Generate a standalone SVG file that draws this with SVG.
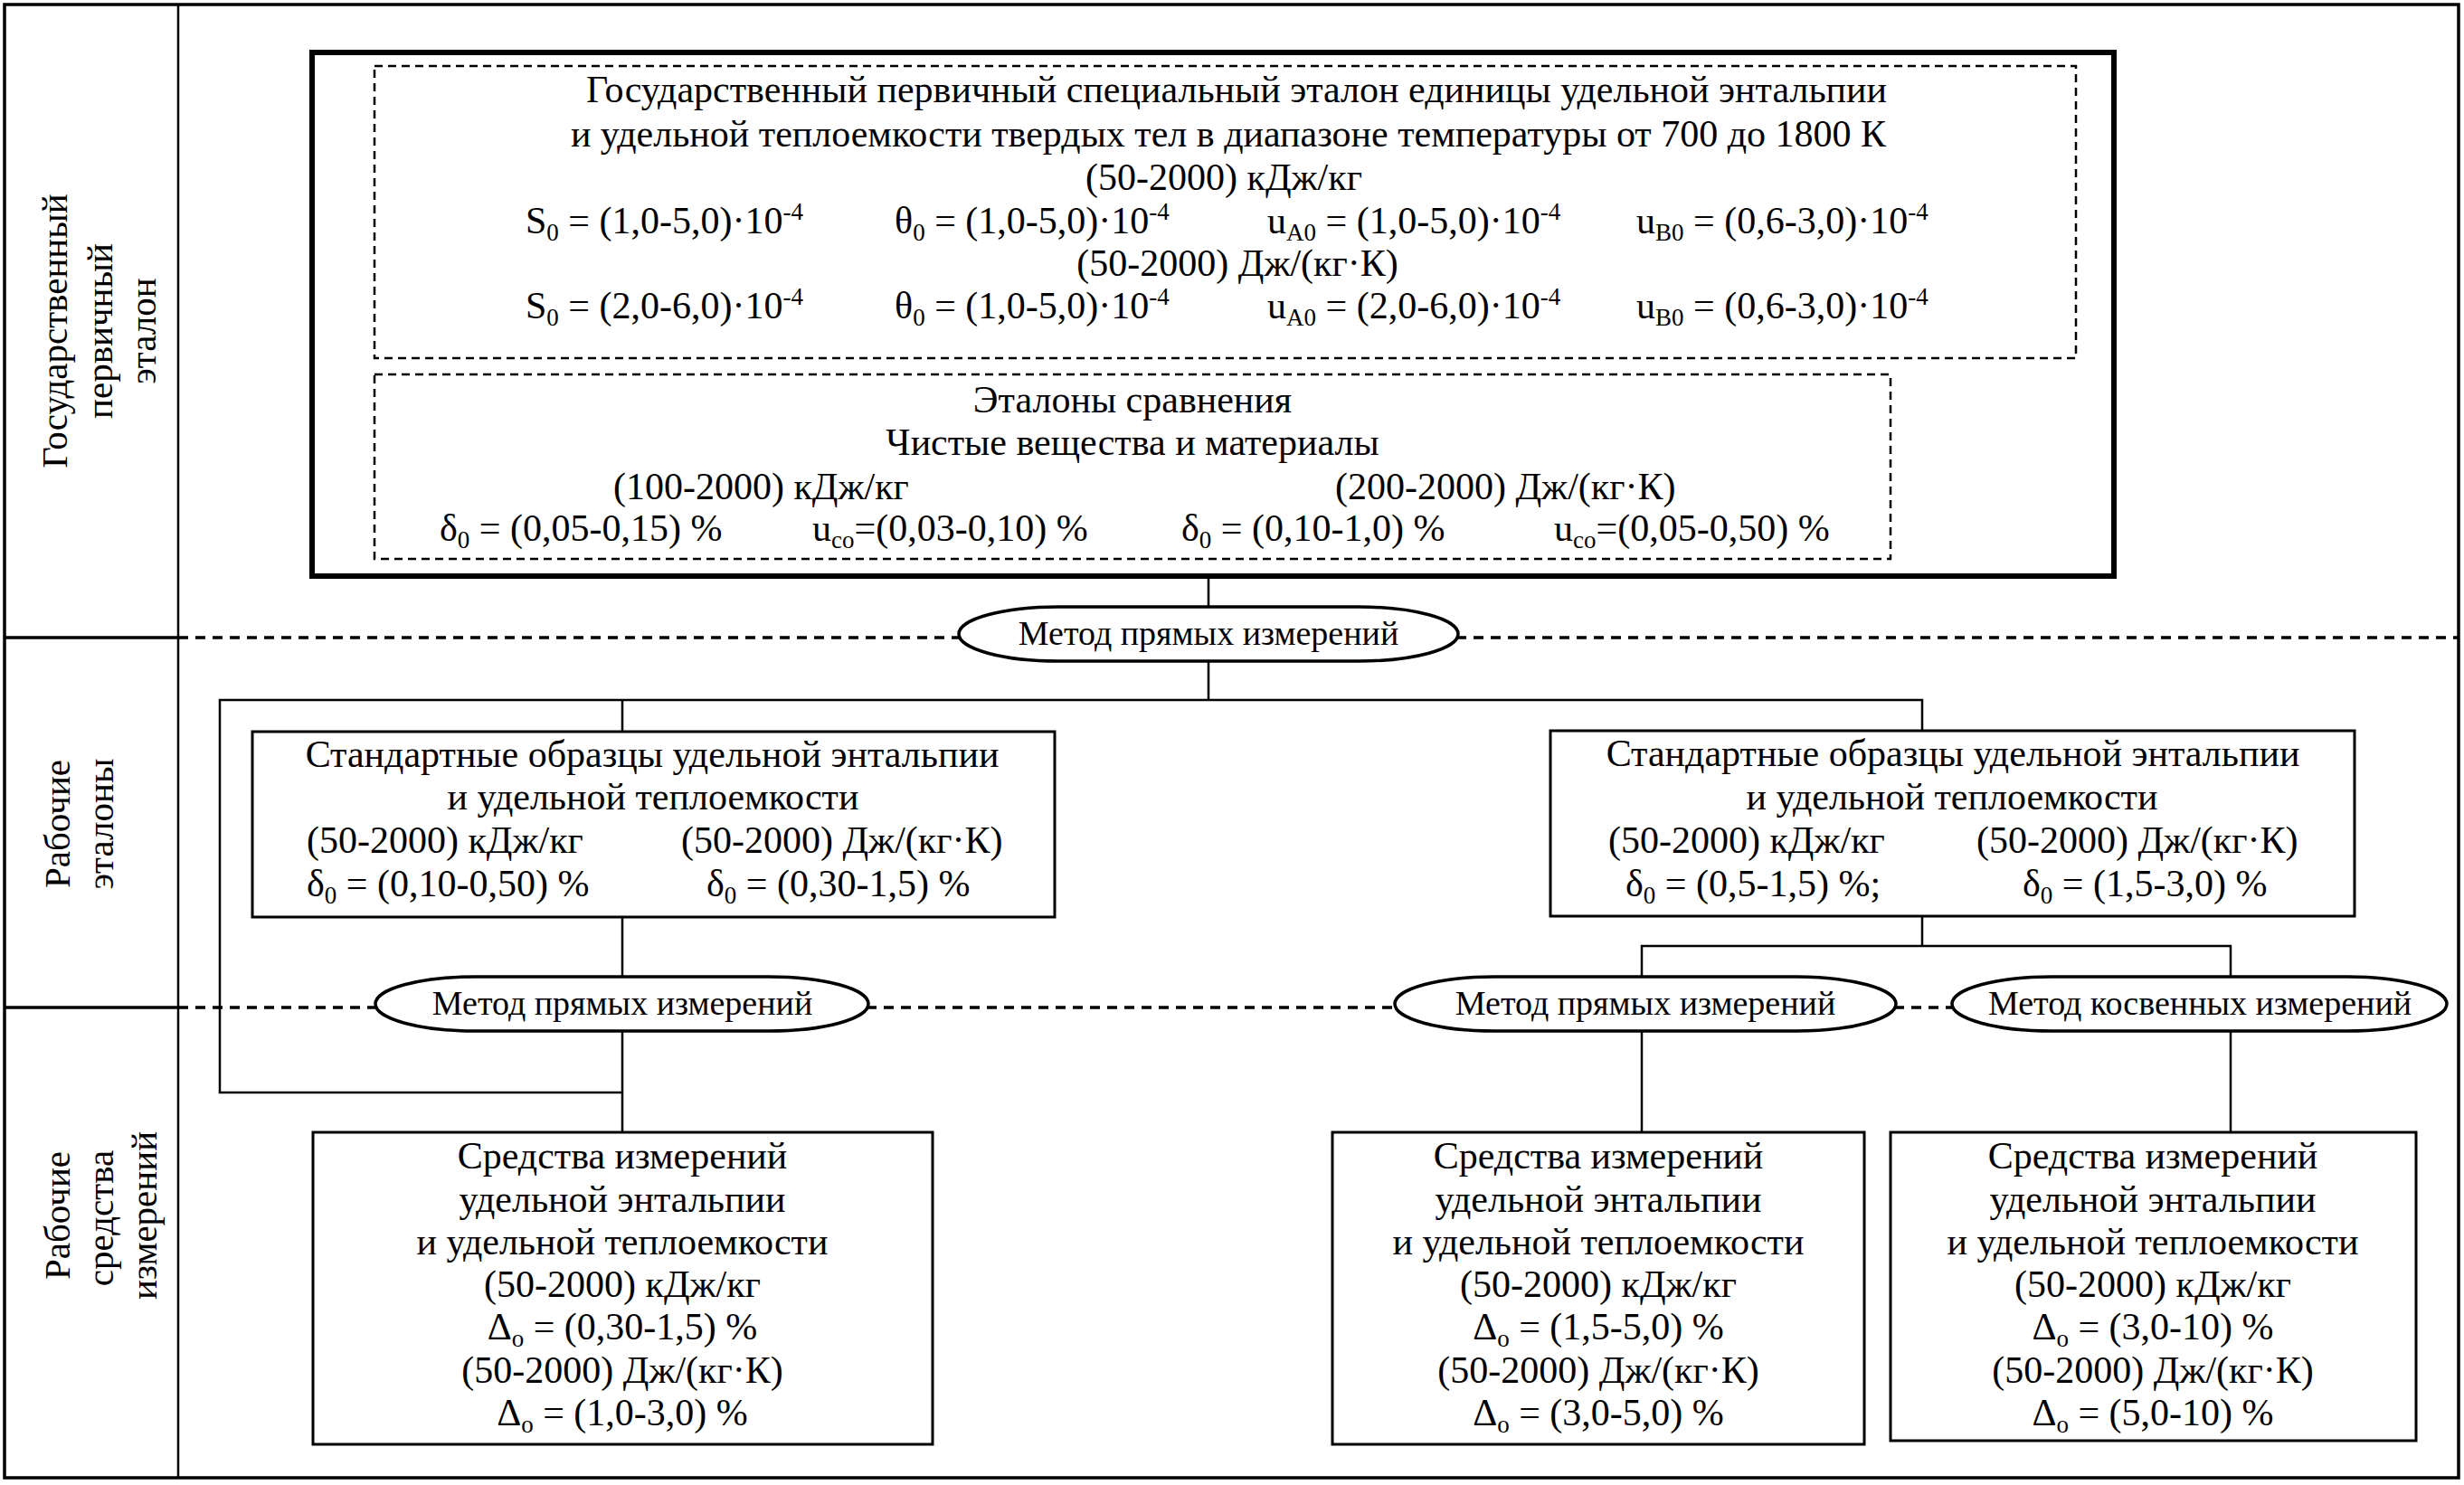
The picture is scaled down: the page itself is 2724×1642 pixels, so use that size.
<svg xmlns="http://www.w3.org/2000/svg" width="2724" height="1642" viewBox="0 0 2724 1642">
<style>
text{font-family:"Liberation Serif","Times New Roman",serif;font-size:42px;fill:#000}
.c{text-anchor:middle}
.e{font-size:38px}
.lab{font-size:41px}
.sub{font-size:27px}
.sup{font-size:27px}
.ln{stroke:#000;stroke-width:2.5;fill:none}
.box{fill:#fff;stroke:#000;stroke-width:3}
.dbox{fill:none;stroke:#000;stroke-width:2.5;stroke-dasharray:9 6}
.sep{stroke:#000;stroke-width:3.5;stroke-dasharray:11 8;fill:none}
.ell{fill:#fff;stroke:#000;stroke-width:3.5}
</style>
<rect width="2724" height="1642" fill="#fff"/>
<g id="frame">
<rect x="5" y="5" width="2713" height="1629" fill="none" stroke="#000" stroke-width="3.5"/>
<line x1="197" y1="5" x2="197" y2="1634" stroke="#000" stroke-width="2.5"/>
<line x1="5" y1="705" x2="197" y2="705" stroke="#000" stroke-width="3.5"/>
<line x1="5" y1="1114" x2="197" y2="1114" stroke="#000" stroke-width="3.5"/>
</g>
<g id="separators">
<line class="sep" x1="197" y1="705" x2="1064" y2="705"/>
<line class="sep" x1="1610" y1="705" x2="2718" y2="705"/>
<line class="sep" x1="197" y1="1114" x2="418" y2="1114"/>
<line class="sep" x1="958" y1="1114" x2="1544" y2="1114"/>
<line class="sep" x1="2094" y1="1114" x2="2160" y2="1114"/>
</g>
<g id="row-labels">
<text class="c lab" transform="translate(74,366) rotate(-90)">Государственный</text>
<text class="c lab" transform="translate(124,366) rotate(-90)">первичный</text>
<text class="c lab" transform="translate(172,366) rotate(-90)">эталон</text>
<text class="c lab" transform="translate(77,911) rotate(-90)">Рабочие</text>
<text class="c lab" transform="translate(125,911) rotate(-90)">эталоны</text>
<text class="c lab" transform="translate(77,1344) rotate(-90)">Рабочие</text>
<text class="c lab" transform="translate(125,1347) rotate(-90)">средства</text>
<text class="c lab" transform="translate(173,1344) rotate(-90)">измерений</text>
</g>
<g id="connectors">
<line class="ln" x1="1336" y1="638" x2="1336" y2="671"/>
<line class="ln" x1="1336" y1="731" x2="1336" y2="774"/>
<polyline class="ln" points="688,1208 243,1208 243,774 2125,774 2125,808"/>
<line class="ln" x1="688" y1="774" x2="688" y2="809"/>
<line class="ln" x1="688" y1="1014" x2="688" y2="1080"/>
<line class="ln" x1="688" y1="1140" x2="688" y2="1252"/>
<line class="ln" x1="2125" y1="1013" x2="2125" y2="1046"/>
<polyline class="ln" points="1815,1080 1815,1046 2466,1046 2466,1080"/>
<line class="ln" x1="1815" y1="1140" x2="1815" y2="1252"/>
<line class="ln" x1="2466" y1="1140" x2="2466" y2="1252"/>
</g>
<g id="primary-standard">
<rect x="345" y="58" width="1992" height="579" fill="none" stroke="#000" stroke-width="6"/>
<rect class="dbox" x="414" y="73" width="1881" height="323"/>
<text class="c" x="1367" y="113">Государственный первичный специальный эталон единицы удельной энтальпии</text>
<text class="c" x="1358" y="162">и удельной теплоемкости твердых тел в диапазоне температуры от 700 до 1800 К</text>
<text class="c" x="1353" y="210">(50-2000) кДж/кг</text>
<text x="581" y="258">S<tspan class="sub" dy="8">0</tspan><tspan dy="-8"> = (1,0-5,0)·10</tspan><tspan class="sup" dy="-15">-4</tspan></text>
<text x="989" y="258">θ<tspan class="sub" dy="8">0</tspan><tspan dy="-8"> = (1,0-5,0)·10</tspan><tspan class="sup" dy="-15">-4</tspan></text>
<text x="1401" y="258">u<tspan class="sub" dy="8">A0</tspan><tspan dy="-8"> = (1,0-5,0)·10</tspan><tspan class="sup" dy="-15">-4</tspan></text>
<text x="1809" y="258">u<tspan class="sub" dy="8">B0</tspan><tspan dy="-8"> = (0,6-3,0)·10</tspan><tspan class="sup" dy="-15">-4</tspan></text>
<text class="c" x="1368" y="305">(50-2000) Дж/(кг·К)</text>
<text x="581" y="352">S<tspan class="sub" dy="8">0</tspan><tspan dy="-8"> = (2,0-6,0)·10</tspan><tspan class="sup" dy="-15">-4</tspan></text>
<text x="989" y="352">θ<tspan class="sub" dy="8">0</tspan><tspan dy="-8"> = (1,0-5,0)·10</tspan><tspan class="sup" dy="-15">-4</tspan></text>
<text x="1401" y="352">u<tspan class="sub" dy="8">A0</tspan><tspan dy="-8"> = (2,0-6,0)·10</tspan><tspan class="sup" dy="-15">-4</tspan></text>
<text x="1809" y="352">u<tspan class="sub" dy="8">B0</tspan><tspan dy="-8"> = (0,6-3,0)·10</tspan><tspan class="sup" dy="-15">-4</tspan></text>
<rect class="dbox" x="414" y="414" width="1676" height="204"/>
<text class="c" x="1252" y="456">Эталоны сравнения</text>
<text class="c" x="1252" y="503">Чистые вещества и материалы</text>
<text x="678" y="552">(100-2000) кДж/кг</text>
<text x="1476" y="552">(200-2000) Дж/(кг·К)</text>
<text x="486" y="598">δ<tspan class="sub" dy="8">0</tspan><tspan dy="-8"> = (0,05-0,15) %</tspan></text>
<text x="898" y="598">u<tspan class="sub" dy="8">co</tspan><tspan dy="-8">=(0,03-0,10) %</tspan></text>
<text x="1306" y="598">δ<tspan class="sub" dy="8">0</tspan><tspan dy="-8"> = (0,10-1,0) %</tspan></text>
<text x="1718" y="598">u<tspan class="sub" dy="8">co</tspan><tspan dy="-8">=(0,05-0,50) %</tspan></text>
</g>
<g id="method-1">
<rect class="ell" x="1060" y="671" width="552" height="60" rx="110" ry="30"/>
<text class="c e" x="1336" y="713">Метод прямых измерений</text>
</g>
<g id="working-standard-1">
<rect class="box" x="279" y="809" width="887" height="205"/>
<text class="c" x="721" y="848">Стандартные образцы удельной энтальпии</text>
<text class="c" x="722" y="895">и удельной теплоемкости</text>
<text x="339" y="943">(50-2000) кДж/кг</text>
<text x="753" y="943">(50-2000) Дж/(кг·К)</text>
<text x="339" y="991">δ<tspan class="sub" dy="8">0</tspan><tspan dy="-8"> = (0,10-0,50) %</tspan></text>
<text x="781" y="991">δ<tspan class="sub" dy="8">0</tspan><tspan dy="-8"> = (0,30-1,5) %</tspan></text>
</g>
<g id="working-standard-2">
<rect class="box" x="1714" y="808" width="889" height="205"/>
<text class="c" x="2159" y="847">Стандартные образцы удельной энтальпии</text>
<text class="c" x="2158" y="895">и удельной теплоемкости</text>
<text x="1778" y="943">(50-2000) кДж/кг</text>
<text x="2185" y="943">(50-2000) Дж/(кг·К)</text>
<text x="1797" y="991">δ<tspan class="sub" dy="8">0</tspan><tspan dy="-8"> = (0,5-1,5) %;</tspan></text>
<text x="2236" y="991">δ<tspan class="sub" dy="8">0</tspan><tspan dy="-8"> = (1,5-3,0) %</tspan></text>
</g>
<g id="method-2">
<rect class="ell" x="415" y="1080" width="545" height="60" rx="110" ry="30"/>
<text class="c e" x="688" y="1122">Метод прямых измерений</text>
</g>
<g id="method-3">
<rect class="ell" x="1542" y="1080" width="554" height="60" rx="110" ry="30"/>
<text class="c e" x="1819" y="1122">Метод прямых измерений</text>
</g>
<g id="method-4">
<rect class="ell" x="2158" y="1080" width="547" height="60" rx="110" ry="30"/>
<text class="c e" x="2432" y="1122">Метод косвенных измерений</text>
</g>
<g id="instrument-1">
<rect class="box" x="346" y="1252" width="685" height="345"/>
<text class="c" x="688" y="1292">Средства измерений</text>
<text class="c" x="688" y="1340">удельной энтальпии</text>
<text class="c" x="688" y="1387">и удельной теплоемкости</text>
<text class="c" x="688" y="1434">(50-2000) кДж/кг</text>
<text class="c" x="688" y="1481">Δ<tspan class="sub" dy="8">o</tspan><tspan dy="-8"> = (0,30-1,5) %</tspan></text>
<text class="c" x="688" y="1529">(50-2000) Дж/(кг·К)</text>
<text class="c" x="688" y="1576">Δ<tspan class="sub" dy="8">o</tspan><tspan dy="-8"> = (1,0-3,0) %</tspan></text>
</g>
<g id="instrument-2">
<rect class="box" x="1473" y="1252" width="588" height="345"/>
<text class="c" x="1767" y="1292">Средства измерений</text>
<text class="c" x="1767" y="1340">удельной энтальпии</text>
<text class="c" x="1767" y="1387">и удельной теплоемкости</text>
<text class="c" x="1767" y="1434">(50-2000) кДж/кг</text>
<text class="c" x="1767" y="1481">Δ<tspan class="sub" dy="8">o</tspan><tspan dy="-8"> = (1,5-5,0) %</tspan></text>
<text class="c" x="1767" y="1529">(50-2000) Дж/(кг·К)</text>
<text class="c" x="1767" y="1576">Δ<tspan class="sub" dy="8">o</tspan><tspan dy="-8"> = (3,0-5,0) %</tspan></text>
</g>
<g id="instrument-3">
<rect class="box" x="2090" y="1252" width="581" height="341"/>
<text class="c" x="2380" y="1292">Средства измерений</text>
<text class="c" x="2380" y="1340">удельной энтальпии</text>
<text class="c" x="2380" y="1387">и удельной теплоемкости</text>
<text class="c" x="2380" y="1434">(50-2000) кДж/кг</text>
<text class="c" x="2380" y="1481">Δ<tspan class="sub" dy="8">o</tspan><tspan dy="-8"> = (3,0-10) %</tspan></text>
<text class="c" x="2380" y="1529">(50-2000) Дж/(кг·К)</text>
<text class="c" x="2380" y="1576">Δ<tspan class="sub" dy="8">o</tspan><tspan dy="-8"> = (5,0-10) %</tspan></text>
</g>
</svg>
